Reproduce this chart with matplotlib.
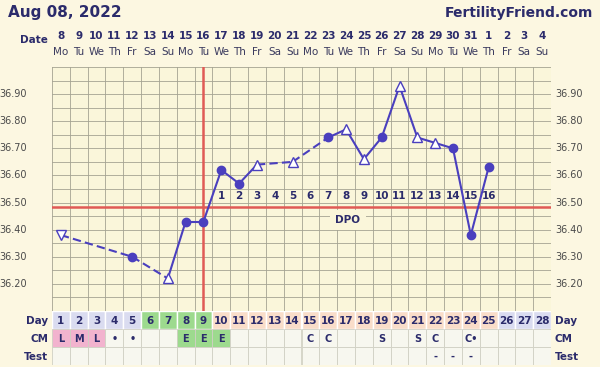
import matplotlib
matplotlib.use("Agg")
import matplotlib.pyplot as plt
from matplotlib.patches import Rectangle
import numpy as np

plt.rcParams["font.family"] = ["DejaVu Sans"]

# chart data
days = list(range(1, 29))
dates = list(range(8, 32)) + [1, 2, 3, 4]
weekdays = ["Mo", "Tu", "We", "Th", "Fr", "Sa", "Su"] * 4
temp_days = [1, 5, 7, 8, 9, 10, 11, 12, 14, 16, 17, 18, 19, 20, 21, 22, 23, 24, 25]
temps = [36.38, 36.30, 36.22, 36.43, 36.43, 36.62, 36.57, 36.64, 36.65, 36.74,
         36.77, 36.66, 36.74, 36.93, 36.74, 36.72, 36.70, 36.38, 36.63]
open_days = [1, 7, 12, 14, 17, 18, 20, 21, 22]
ovulation_day = 9
coverline = 36.485
dpo_days = list(range(10, 26))
dpo_labels = [str(i) for i in range(1, 17)]
cm_values = {1: "L", 2: "M", 3: "L", 4: "•", 5: "•", 8: "E", 9: "E", 10: "E",
             15: "C", 16: "C", 19: "S", 21: "S", 22: "C", 24: "C•"}
test_values = {22: "-", 23: "-", 24: "-"}
yticks = [36.20, 36.30, 36.40, 36.50, 36.60, 36.70, 36.80, 36.90]

# colours
bg = "#FCF7E1"
plot_bg = "#FAF6DA"
navy = "#2B2B6B"
purple = "#4A3FBE"
red = "#E05A55"
grid_c = "#A4A392"
lav = "#DADCF0"
green = "#9DDA8E"
peach = "#F9DDC9"
pink = "#F2B3CE"
cell_bg = "#F7F7EF"


def day_color(d):
    if d <= 5 or d >= 26:
        return lav
    if d <= 9:
        return green
    return peach


W, H = 600, 367
fig = plt.figure(figsize=(6, 3.67), dpi=100, facecolor=bg)

x0, x1 = 52, 551
ytop, ybot, ytab = 67, 311, 365
ax = fig.add_axes([x0 / W, 1 - ybot / H, (x1 - x0) / W, (ybot - ytop) / H])
ax.set_facecolor(plot_bg)
ax.set_xlim(0.5, 28.5)
ax.set_ylim(36.10, 37.00)
for x in np.arange(0.5, 28.6, 1):
    ax.axvline(x, color=grid_c, lw=0.6, zorder=1)
for y in np.arange(36.10, 37.001, 0.05):
    ax.axhline(y, color=grid_c, lw=0.6, zorder=1)
for s in ax.spines.values():
    s.set_visible(False)
ax.set_xticks([])
ax.set_yticks([])

# coverline & ovulation line
ax.axhline(coverline, color=red, lw=1.8, zorder=2)
ax.axvline(ovulation_day, color=red, lw=1.8, zorder=2)

# temperature segments
for i in range(len(temp_days) - 1):
    gap = temp_days[i + 1] - temp_days[i] > 1
    ax.plot(temp_days[i:i + 2], temps[i:i + 2], color=purple, lw=1.5,
            ls=(0, (4, 2)) if gap else "-", zorder=3)
for d, t in zip(temp_days, temps):
    if d in open_days:
        mk = "v" if d == 1 else "^"
        ax.plot(d, t, marker=mk, ms=7, mfc="white", mec=purple, mew=1.0, zorder=4)
    else:
        ax.plot(d, t, marker="o", ms=6, mfc=purple, mec=purple, zorder=4)

for d, lab in zip(dpo_days, dpo_labels):
    ax.text(d, 36.525, lab, ha="center", va="center", fontsize=7.5,
            fontweight="bold", color=navy, zorder=5)
ax.text(17.1, 36.435, "DPO", ha="center", va="center", fontsize=7.5,
        fontweight="bold", color=navy, zorder=5,
        bbox=dict(boxstyle="square,pad=0.5", fc=plot_bg, ec="none"))

# y tick labels on both sides
for t in yticks:
    ax.text(-0.05, t, f"{t:.2f}", ha="right", va="center", fontsize=7,
            color="#4A4A4A", transform=ax.get_yaxis_transform())
    ax.text(1.008, t, f"{t:.2f}", ha="left", va="center", fontsize=7,
            color="#4A4A4A", transform=ax.get_yaxis_transform())

# table below
tab = fig.add_axes([x0 / W, 1 - ytab / H, (x1 - x0) / W, (ytab - ybot) / H])
tab.set_xlim(0.5, 28.5)
tab.set_ylim(3, 0)
tab.axis("off")
for d in days:
    tab.add_patch(Rectangle((d - 0.5, 0), 1, 1, fc=day_color(d), ec="white", lw=1))
    tab.text(d, 0.55, str(d), ha="center", va="center", fontsize=7.5,
             fontweight="bold", color=navy)
    c = cell_bg
    if d <= 3:
        c = pink
    elif 8 <= d <= 10:
        c = green
    tab.add_patch(Rectangle((d - 0.5, 1), 1, 1, fc=c, ec="#D0D0C4", lw=0.6))
    tab.add_patch(Rectangle((d - 0.5, 2), 1, 1, fc=cell_bg, ec="#D0D0C4", lw=0.6))
    if d in cm_values:
        tab.text(d, 1.55, cm_values[d], ha="center", va="center", fontsize=7,
                 fontweight="bold", color=navy)
    if d in test_values:
        tab.text(d, 2.55, test_values[d], ha="center", va="center", fontsize=7,
                 fontweight="bold", color=navy)

for r, lab in enumerate(["Day", "CM", "Test"]):
    tab.text(-0.008, r + 0.55, lab, ha="right", va="center", fontsize=7.5,
             fontweight="bold", color=navy, transform=tab.get_yaxis_transform())
    tab.text(1.008, r + 0.55, lab, ha="left", va="center", fontsize=7.5,
             fontweight="bold", color=navy, transform=tab.get_yaxis_transform())

# header
fig.text(8 / W, 1 - 13 / H, "Aug 08, 2022", ha="left", va="center",
         fontsize=11, fontweight="bold", color=navy)
fig.text(593 / W, 1 - 13 / H, "FertilityFriend.com", ha="right", va="center",
         fontsize=10, fontweight="bold", color=navy)
fig.text(48 / W, 1 - 40 / H, "Date", ha="right", va="center",
         fontsize=7.5, fontweight="bold", color=navy)
for d, dt, wd in zip(days, dates, weekdays):
    xf = (x0 + (d - 0.5) / 28 * (x1 - x0)) / W
    fig.text(xf, 1 - 36 / H, str(dt), ha="center", va="center", fontsize=7.5,
             fontweight="bold", color=navy)
    fig.text(xf, 1 - 52 / H, wd, ha="center", va="center", fontsize=7.5,
             color="#3A3A5E")

fig.savefig("out.png", dpi=100, facecolor=bg)
